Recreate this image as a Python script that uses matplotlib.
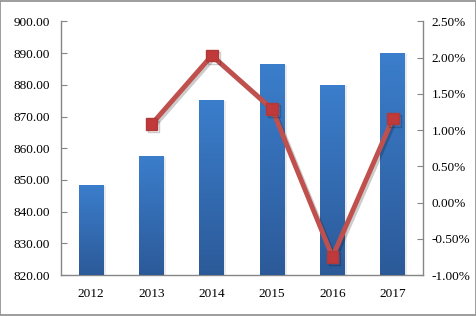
import matplotlib
matplotlib.use("Agg")
import matplotlib.pyplot as plt
import numpy as np
from matplotlib.patches import Rectangle
import matplotlib.patheffects as pe
from matplotlib.colors import LinearSegmentedColormap

years = ["2012", "2013", "2014", "2015", "2016", "2017"]
values = [848.5, 857.6, 875.3, 886.7, 880.1, 890.2]
growth = [None, 1.08, 2.03, 1.29, -0.75, 1.16]

plt.rcParams['font.family'] = ['Liberation Serif', 'DejaVu Serif']

fig = plt.figure(figsize=(4.77, 3.16), dpi=100)
ax = fig.add_axes([0.1279, 0.1297, 0.8868 - 0.1279, 0.932 - 0.1297])
x = np.arange(len(years))

bars = ax.bar(x, values, width=0.41, color='#3A7BC8', zorder=2)
grad = np.linspace(0, 1, 256).reshape(-1, 1)
cmap = LinearSegmentedColormap.from_list('g', ['#2C5A99', '#3B7ECC'])
for b in bars:
    b.set_path_effects([pe.withSimplePatchShadow(offset=(1.5, -1), shadow_rgbFace='#b0b0b0', alpha=0.25)])
    x0 = b.get_x()
    w, h = b.get_width(), b.get_height()
    im = ax.imshow(grad, extent=[x0, x0 + w, 820, b.get_y() + h], origin='lower',
                   cmap=cmap, aspect='auto', zorder=3)
    im.set_clip_path(b)

ax.set_xlim(-0.5, len(years) - 0.5)
ax.set_ylim(820, 900)
ax.set_yticks(np.arange(820, 901, 10))
ax.set_yticklabels([f"{v:.2f}" for v in np.arange(820, 901, 10)])
ax.set_xticks(x)
ax.set_xticklabels(years)

ax2 = ax.twinx()
gx = [i for i, g in enumerate(growth) if g is not None]
gy = [g for g in growth if g is not None]
ax2.plot(gx, gy, color='#C0504D', lw=3.5, marker='s', markersize=8.5,
         markerfacecolor='#C0393B', markeredgecolor='#B03A3A', zorder=5,
         path_effects=[pe.SimpleLineShadow(offset=(1.5, -1.5), alpha=0.2), pe.Normal()])
ax2.set_ylim(-1.0, 2.5)
ax2.set_yticks(np.arange(-1.0, 2.51, 0.5))
ax2.set_yticklabels([f"{v:.2f}%" for v in np.arange(-1.0, 2.51, 0.5)])

for a in (ax, ax2):
    a.spines['top'].set_visible(False)
    for s in ('left', 'right', 'bottom'):
        a.spines[s].set_color('#868686')
        a.spines[s].set_linewidth(1.0)
ax.spines['right'].set_visible(False)
ax2.spines['left'].set_visible(False)
ax2.spines['bottom'].set_visible(False)

ax.tick_params(axis='y', direction='in', length=4, color='#868686', labelsize=9.5, pad=8)
ax.tick_params(axis='x', length=0, labelsize=9.5, pad=9)
ax2.tick_params(axis='y', direction='in', length=4, color='#868686', labelsize=9.5, pad=6)
ax.set_zorder(1)
ax2.set_zorder(2)
ax2.patch.set_visible(False)

fig.patches.append(Rectangle((0.001, 0.002), 0.997, 0.996, transform=fig.transFigure,
                             fill=False, edgecolor='#8c8c8c', lw=1.2))

fig.savefig('out.png', dpi=100)
